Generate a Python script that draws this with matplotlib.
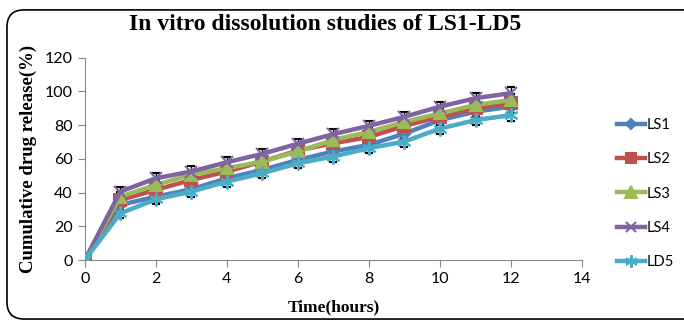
import matplotlib
matplotlib.use("Agg")
import matplotlib.pyplot as plt
from matplotlib.patches import FancyBboxPatch
from matplotlib.lines import Line2D
import numpy as np

# Data
hours = [0, 1, 2, 3, 4, 5, 6, 7, 8, 9, 10, 11, 12]
ls1 = [0, 32.7, 37.6, 42.0, 48.5, 53.5, 59.4, 64.4, 68.3, 75.0, 83.0, 88.0, 91.0]
ls2 = [0, 35.6, 41.6, 47.5, 52.5, 58.4, 65.0, 69.3, 73.0, 79.6, 85.0, 90.0, 93.0]
ls3 = [0, 37.6, 44.6, 50.5, 54.5, 58.4, 64.4, 71.3, 76.0, 82.0, 87.0, 92.0, 95.0]
ls4 = [0, 40.6, 48.5, 52.5, 58.0, 63.0, 69.0, 74.7, 79.6, 85.0, 91.0, 96.0, 99.0]
ld5 = [0, 27.7, 36.0, 40.6, 46.5, 51.5, 57.4, 61.4, 66.3, 70.3, 78.0, 83.0, 86.0]
err = [0, 3, 3, 3, 3, 3, 3, 3, 3, 3, 3, 3, 3.5]

series = [
    ("LS1", ls1, "#4F81BD", "D", 6),
    ("LS2", ls2, "#C0504D", "s", 8),
    ("LS3", ls3, "#9BBB59", "^", 9),
    ("LS4", ls4, "#8064A2", "x", 8),
    ("LD5", ld5, "#4BACC6", (6, 2, 0), 10),
]

fig = plt.figure(figsize=(6.84, 3.2), dpi=100)
ax = fig.add_axes([0.124, 0.1875, 0.727, 0.632])

handles = []
for name, vals, col, mk, ms in series:
    ax.errorbar(hours, vals, yerr=err, color=col, marker=mk, markersize=ms,
                linewidth=3.2, ecolor="black", elinewidth=1.0, capsize=3,
                capthick=1.0, markeredgewidth=1.5, zorder=3)
    handles.append(Line2D([], [], color=col, marker=mk, markersize=ms - 1,
                          linewidth=3.2, markeredgewidth=1.5, label=name))

ax.set_xlim(0, 14)
ax.set_ylim(0, 120)
ax.set_xticks(np.arange(0, 15, 2))
ax.set_yticks(np.arange(0, 121, 20))
for s in ["top", "right"]:
    ax.spines[s].set_visible(False)
for s in ["left", "bottom"]:
    ax.spines[s].set_color("#888888")
ax.tick_params(colors="#888888", labelcolor="black", labelsize=11.5, length=5)
for lab in ax.get_xticklabels() + ax.get_yticklabels():
    lab.set_family("Lato")

ax.set_xlabel("Time(hours)", family="Liberation Serif", fontweight="bold", fontsize=12.5,
              labelpad=10)
ax.set_ylabel("Cumulative drug release(%)", family="Liberation Serif",
              fontweight="bold", fontsize=13.5, labelpad=6)
fig.text(0.475, 0.925, "In vitro dissolution studies of LS1-LD5", ha="center", va="center",
         family="Liberation Serif", fontweight="bold", fontsize=17)

leg = fig.legend(handles=handles, loc="upper left", bbox_to_anchor=(0.902, 0.632),
                 frameon=False, fontsize=10.5, handlelength=1.9, labelspacing=1.4,
                 handletextpad=0.15, borderaxespad=0, borderpad=0)
for t in leg.get_texts():
    t.set_family("Lato")

box = FancyBboxPatch((7 / 684, 0.003), 1.1, 0.966, boxstyle="round,pad=0,rounding_size=0.025",
                     transform=fig.transFigure, fill=False, edgecolor="black",
                     linewidth=1.2, mutation_aspect=684 / 320)
fig.patches.append(box)

fig.savefig("out.png", dpi=100)
